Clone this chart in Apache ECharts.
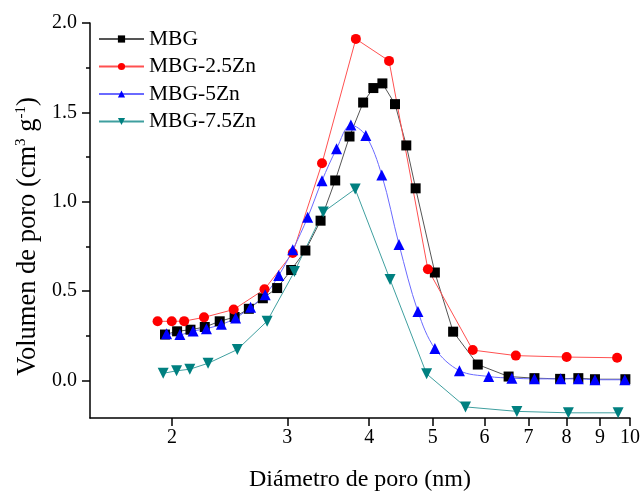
<!DOCTYPE html>
<html>
<head>
<meta charset="utf-8">
<script src="https://cdn.jsdelivr.net/npm/echarts@6/dist/echarts.min.js"></script>
<style>html,body{margin:0;padding:0;background:#fff}#c{width:643px;height:497px}</style>
</head>
<body>
<div id="c"></div>
<script>
const seriesNames = ['MBG', 'MBG-2.5Zn', 'MBG-5Zn', 'MBG-7.5Zn'];
const xTickValues = [2, 3, 4, 5, 6, 7, 8, 9, 10];
const yTickValues = [0, 0.5, 1.0, 1.5, 2.0];
const yMinorTickValues = [0.25, 0.75, 1.25, 1.75];

const mbgX = [1.952, 2.037, 2.135, 2.245, 2.366, 2.493, 2.621, 2.753, 2.895, 3.041, 3.197, 3.372, 3.550, 3.733, 3.916, 4.059, 4.190, 4.380, 4.557, 4.709, 5.038, 5.372, 5.858, 6.528, 7.148, 7.823, 8.340, 8.842, 9.839];
const mbgY = [0.257, 0.275, 0.284, 0.299, 0.331, 0.355, 0.401, 0.460, 0.517, 0.618, 0.727, 0.894, 1.119, 1.365, 1.555, 1.636, 1.662, 1.546, 1.315, 1.075, 0.604, 0.273, 0.089, 0.022, 0.013, 0.009, 0.013, 0.007, 0.007];

const zn25X = [1.902, 1.999, 2.088, 2.239, 2.485, 2.769, 3.058, 3.389, 3.817, 4.289, 4.916, 5.756, 6.696, 8.005, 9.557];
const zn25Y = [0.331, 0.331, 0.332, 0.353, 0.397, 0.510, 0.713, 1.215, 1.911, 1.788, 0.622, 0.170, 0.139, 0.131, 0.127];

const zn5X = [1.963, 2.057, 2.155, 2.258, 2.380, 2.502, 2.637, 2.776, 2.911, 3.058, 3.223, 3.389, 3.567, 3.751, 3.953, 4.181, 4.442, 4.747, 5.038, 5.493, 6.087, 6.604, 7.148, 7.839, 8.340, 8.842, 9.819];
const zn5Y = [0.262, 0.257, 0.277, 0.290, 0.314, 0.349, 0.410, 0.480, 0.587, 0.731, 0.913, 1.118, 1.296, 1.429, 1.370, 1.149, 0.761, 0.386, 0.179, 0.055, 0.022, 0.013, 0.009, 0.009, 0.009, 0.004, 0.004];

const zn75X = [1.940, 2.033, 2.130, 2.271, 2.517, 2.795, 3.076, 3.404, 3.808, 4.304, 4.894, 5.611, 6.720, 8.053, 9.591];
const zn75Y = [0.040, 0.054, 0.063, 0.096, 0.173, 0.332, 0.609, 0.942, 1.071, 0.565, 0.037, -0.148, -0.173, -0.181, -0.181];

const FONT = "'Liberation Serif', 'Times New Roman', serif";
const zip = (xs, ys) => xs.map((x, i) => [x, ys[i]]);

const chart = echarts.init(document.getElementById('c'), null, {renderer: 'canvas'});

const mk = (name, xs, ys, symbol, color, lineColor, size, extra) => Object.assign({
  name, type: 'line', data: zip(xs, ys), symbol, symbolSize: size,
  itemStyle: {color: color},
  lineStyle: {color: lineColor, width: 1},
  emphasis: {disabled: true}, animation: false
}, extra || {});

chart.setOption({
  animation: false,
  grid: {left: 90, top: 23, right: 11, bottom: 75, containLabel: false},
  legend: {
    orient: 'vertical', left: 98, top: 28, padding: 0,
    itemWidth: 45, itemHeight: 9, itemGap: 5.5,
    textStyle: {fontFamily: FONT, fontSize: 21.5, color: '#000', lineHeight: 22},
    data: seriesNames
  },
  xAxis: {
    type: 'log', logBase: 10, min: 1.5, max: 10,
    name: 'Diámetro de poro (nm)', nameLocation: 'middle', nameGap: 50,
    nameTextStyle: {fontFamily: FONT, fontSize: 24, color: '#000'},
    axisLine: {show: true, onZero: false, lineStyle: {color: '#000', width: 1.5}},
    axisTick: {show: true, inside: false, length: 8, lineStyle: {color: '#000', width: 1.5}, customValues: xTickValues},
    axisLabel: {fontFamily: FONT, fontSize: 20, color: '#000', margin: 10, customValues: xTickValues, formatter: v => String(Math.round(v))},
    splitLine: {show: false}, minorTick: {show: false}
  },
  yAxis: [{
    type: 'value', min: -0.21, max: 2.0,
    name: 'Volumen de poro (cm{sup|3} g{sup|-1})', nameLocation: 'middle', nameGap: 45,
    nameTextStyle: {fontFamily: FONT, fontSize: 26.5, color: '#000', padding: [0, 32, 0, 0],
      rich: {sup: {fontFamily: FONT, fontSize: 15, color: '#000', verticalAlign: 'top', lineHeight: 29}}},
    axisLine: {show: true, onZero: false, lineStyle: {color: '#000', width: 1.5}},
    axisTick: {show: true, inside: false, length: 8, lineStyle: {color: '#000', width: 1.5}, customValues: yTickValues},
    axisLabel: {fontFamily: FONT, fontSize: 20, color: '#000', margin: 13, customValues: yTickValues, formatter: v => v.toFixed(1)},
    splitLine: {show: false}
  }, {
    type: 'value', min: -0.21, max: 2.0, position: 'left',
    axisLine: {show: false, onZero: false},
    axisTick: {show: true, inside: false, length: 4, lineStyle: {color: '#000', width: 1.5}, customValues: yMinorTickValues},
    axisLabel: {show: false}, splitLine: {show: false}
  }],
  series: [
    mk(seriesNames[0], mbgX, mbgY, 'rect', '#000000', '#555555', 10),
    mk(seriesNames[1], zn25X, zn25Y, 'circle', '#ff0000', '#ff5050', 10),
    mk(seriesNames[2], zn5X, zn5Y, 'triangle', '#0000ff', '#6a6aff', 11, {smooth: 0.35}),
    mk(seriesNames[3], zn75X, zn75Y, 'triangle', '#008080', '#3f9f9f', 11, {symbolRotate: 180})
  ]
});
</script>
</body>
</html>
